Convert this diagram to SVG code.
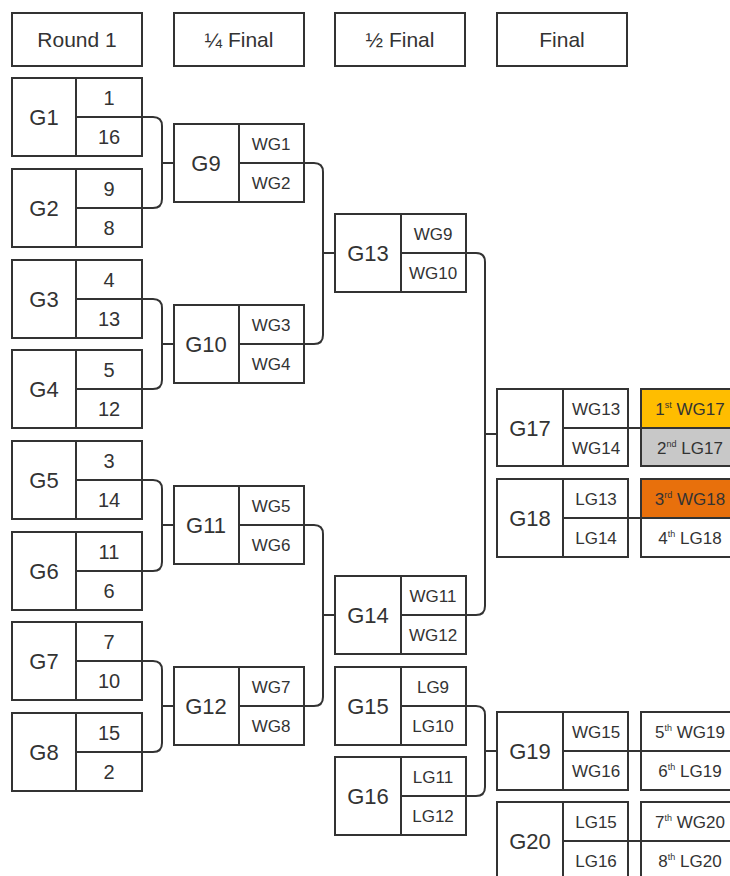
<svg xmlns="http://www.w3.org/2000/svg" width="730" height="876" viewBox="0 0 730 876">
<style>
.b{fill:#fff;stroke:#333;stroke-width:2}
.l{stroke:#333;stroke-width:2;fill:none}
text{font-family:"Liberation Sans",Arial,sans-serif;fill:#333;text-anchor:middle}
.h{font-size:21px}
.g{font-size:22px}
.n{font-size:20px}
.s{font-size:17px}
.r{font-size:17px}
.sup{font-size:9px}
</style>
<rect width="730" height="876" fill="#fff"/>
<g id="headers">
<rect class="b" x="12" y="13" width="130" height="53"/><text class="h" x="77" y="47">Round 1</text>
<rect class="b" x="174" y="13" width="130" height="53"/><text class="h" x="239" y="47">¼ Final</text>
<rect class="b" x="335" y="13" width="130" height="53"/><text class="h" x="400" y="47">½ Final</text>
<rect class="b" x="497" y="13" width="130" height="53"/><text class="h" x="562" y="47">Final</text>
</g>
<g id="G1"><rect class="b" x="12" y="78" width="130" height="78"/><path class="l" d="M76 78V156M76 117H142"/><text class="g" x="44" y="125">G1</text><text class="n" x="109" y="105">1</text><text class="n" x="109" y="144">16</text></g>
<g id="G2"><rect class="b" x="12" y="169" width="130" height="78"/><path class="l" d="M76 169V247M76 208H142"/><text class="g" x="44" y="216">G2</text><text class="n" x="109" y="196">9</text><text class="n" x="109" y="235">8</text></g>
<g id="G3"><rect class="b" x="12" y="260" width="130" height="78"/><path class="l" d="M76 260V338M76 299H142"/><text class="g" x="44" y="307">G3</text><text class="n" x="109" y="287">4</text><text class="n" x="109" y="326">13</text></g>
<g id="G4"><rect class="b" x="12" y="350" width="130" height="78"/><path class="l" d="M76 350V428M76 389H142"/><text class="g" x="44" y="397">G4</text><text class="n" x="109" y="377">5</text><text class="n" x="109" y="416">12</text></g>
<g id="G5"><rect class="b" x="12" y="441" width="130" height="78"/><path class="l" d="M76 441V519M76 480H142"/><text class="g" x="44" y="488">G5</text><text class="n" x="109" y="468">3</text><text class="n" x="109" y="507">14</text></g>
<g id="G6"><rect class="b" x="12" y="532" width="130" height="78"/><path class="l" d="M76 532V610M76 571H142"/><text class="g" x="44" y="579">G6</text><text class="n" x="109" y="559">11</text><text class="n" x="109" y="598">6</text></g>
<g id="G7"><rect class="b" x="12" y="622" width="130" height="78"/><path class="l" d="M76 622V700M76 661H142"/><text class="g" x="44" y="669">G7</text><text class="n" x="109" y="649">7</text><text class="n" x="109" y="688">10</text></g>
<g id="G8"><rect class="b" x="12" y="713" width="130" height="78"/><path class="l" d="M76 713V791M76 752H142"/><text class="g" x="44" y="760">G8</text><text class="n" x="109" y="740">15</text><text class="n" x="109" y="779">2</text></g>
<g id="G9"><rect class="b" x="174" y="124" width="130" height="78"/><path class="l" d="M239 124V202M239 163H304"/><text class="g" x="206" y="171">G9</text><text class="s" x="271" y="150">WG1</text><text class="s" x="271" y="189">WG2</text></g>
<g id="G10"><rect class="b" x="174" y="305" width="130" height="78"/><path class="l" d="M239 305V383M239 344H304"/><text class="g" x="206" y="352">G10</text><text class="s" x="271" y="331">WG3</text><text class="s" x="271" y="370">WG4</text></g>
<g id="G11"><rect class="b" x="174" y="486" width="130" height="78"/><path class="l" d="M239 486V564M239 525H304"/><text class="g" x="206" y="533">G11</text><text class="s" x="271" y="512">WG5</text><text class="s" x="271" y="551">WG6</text></g>
<g id="G12"><rect class="b" x="174" y="667" width="130" height="78"/><path class="l" d="M239 667V745M239 706H304"/><text class="g" x="206" y="714">G12</text><text class="s" x="271" y="693">WG7</text><text class="s" x="271" y="732">WG8</text></g>
<g id="G13"><rect class="b" x="335" y="214" width="131" height="78"/><path class="l" d="M401 214V292M401 253H466"/><text class="g" x="368" y="261">G13</text><text class="s" x="433" y="240">WG9</text><text class="s" x="433" y="279">WG10</text></g>
<g id="G14"><rect class="b" x="335" y="576" width="131" height="78"/><path class="l" d="M401 576V654M401 615H466"/><text class="g" x="368" y="623">G14</text><text class="s" x="433" y="602">WG11</text><text class="s" x="433" y="641">WG12</text></g>
<g id="G15"><rect class="b" x="335" y="667" width="131" height="78"/><path class="l" d="M401 667V745M401 706H466"/><text class="g" x="368" y="714">G15</text><text class="s" x="433" y="693">LG9</text><text class="s" x="433" y="732">LG10</text></g>
<g id="G16"><rect class="b" x="335" y="757" width="131" height="78"/><path class="l" d="M401 757V835M401 796H466"/><text class="g" x="368" y="804">G16</text><text class="s" x="433" y="783">LG11</text><text class="s" x="433" y="822">LG12</text></g>
<g id="G17"><rect class="b" x="497" y="389" width="131" height="77"/><path class="l" d="M563 389V466M563 428H628"/><text class="g" x="530" y="436">G17</text><text class="s" x="596" y="415">WG13</text><text class="s" x="596" y="454">WG14</text></g>
<g id="G18"><rect class="b" x="497" y="479" width="131" height="78"/><path class="l" d="M563 479V557M563 518H628"/><text class="g" x="530" y="526">G18</text><text class="s" x="596" y="505">LG13</text><text class="s" x="596" y="544">LG14</text></g>
<g id="G19"><rect class="b" x="497" y="712" width="131" height="78"/><path class="l" d="M563 712V790M563 751H628"/><text class="g" x="530" y="759">G19</text><text class="s" x="596" y="738">WG15</text><text class="s" x="596" y="777">WG16</text></g>
<g id="G20"><rect class="b" x="497" y="802" width="131" height="78"/><path class="l" d="M563 802V880M563 841H628"/><text class="g" x="530" y="849">G20</text><text class="s" x="596" y="828">LG15</text><text class="s" x="596" y="867">LG16</text></g>
<g id="R17">
<rect x="641" y="389" width="100" height="39" fill="#FFBD00" stroke="#333" stroke-width="2"/>
<rect x="641" y="428" width="100" height="38" fill="#C8C8C8" stroke="#333" stroke-width="2"/>
<text class="r" x="690" y="415">1<tspan class="sup" dy="-7">st</tspan><tspan dy="7"> WG17</tspan></text>
<text class="r" x="690" y="454">2<tspan class="sup" dy="-7">nd</tspan><tspan dy="7"> LG17</tspan></text>
</g>
<g id="R18">
<rect x="641" y="479" width="100" height="39" fill="#E8700C" stroke="#333" stroke-width="2"/>
<rect x="641" y="518" width="100" height="39" fill="#fff" stroke="#333" stroke-width="2"/>
<text class="r" x="690" y="505">3<tspan class="sup" dy="-7">rd</tspan><tspan dy="7"> WG18</tspan></text>
<text class="r" x="690" y="544">4<tspan class="sup" dy="-7">th</tspan><tspan dy="7"> LG18</tspan></text>
</g>
<g id="R19">
<rect x="641" y="712" width="100" height="39" fill="#fff" stroke="#333" stroke-width="2"/>
<rect x="641" y="751" width="100" height="39" fill="#fff" stroke="#333" stroke-width="2"/>
<text class="r" x="690" y="738">5<tspan class="sup" dy="-7">th</tspan><tspan dy="7"> WG19</tspan></text>
<text class="r" x="690" y="777">6<tspan class="sup" dy="-7">th</tspan><tspan dy="7"> LG19</tspan></text>
</g>
<g id="R20">
<rect x="641" y="802" width="100" height="39" fill="#fff" stroke="#333" stroke-width="2"/>
<rect x="641" y="841" width="100" height="39" fill="#fff" stroke="#333" stroke-width="2"/>
<text class="r" x="690" y="828">7<tspan class="sup" dy="-7">th</tspan><tspan dy="7"> WG20</tspan></text>
<text class="r" x="690" y="867">8<tspan class="sup" dy="-7">th</tspan><tspan dy="7"> LG20</tspan></text>
</g>
<g id="connectors">
<path class="l" d="M142 117H153Q162 117 162 126V199Q162 208 153 208H142M162 163H174"/>
<path class="l" d="M142 299H153Q162 299 162 308V380Q162 389 153 389H142M162 344H174"/>
<path class="l" d="M142 480H153Q162 480 162 489V562Q162 571 153 571H142M162 525H174"/>
<path class="l" d="M142 661H153Q162 661 162 670V743Q162 752 153 752H142M162 706H174"/>
<path class="l" d="M304 163H314Q323 163 323 172V335Q323 344 314 344H304M323 253H335"/>
<path class="l" d="M304 525H314Q323 525 323 534V697Q323 706 314 706H304M323 615H335"/>
<path class="l" d="M466 253H476Q485 253 485 262V606Q485 615 476 615H466M485 434H497"/>
<path class="l" d="M466 706H476Q485 706 485 715V787Q485 796 476 796H466M485 751H497"/>
<path class="l" d="M628 428H641M628 518H641M628 751H641M628 841H641"/>
</g>
</svg>
